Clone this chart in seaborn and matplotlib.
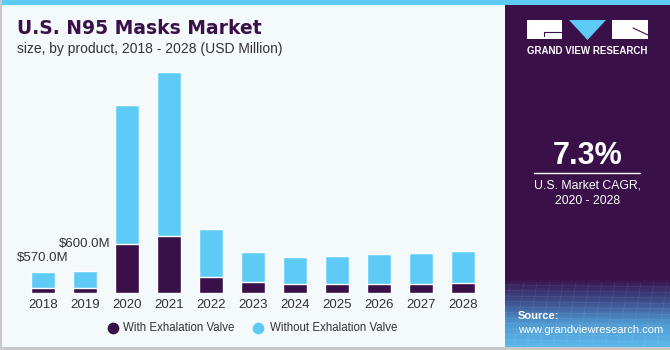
import numpy as np
import pandas as pd
import seaborn as sns
import matplotlib.pyplot as plt
from matplotlib.patches import Rectangle, Polygon
from matplotlib.colors import LinearSegmentedColormap

# data (USD Million)
years = ["2018", "2019", "2020", "2021", "2022", "2023",
         "2024", "2025", "2026", "2027", "2028"]
with_valve = [135, 135, 1320, 1540, 430, 300, 245, 245, 250, 255, 260]
without_valve = [435, 465, 3760, 4430, 1300, 810, 725, 755, 800, 825, 875]
bar_labels = {"2018": "$570.0M", "2019": "$600.0M"}
label_lift = {"2018": 6, "2019": 15}   # points above bar top

DARK = "#3A1048"
CYAN = "#5ECBF7"
BG = "#F4F9FC"
TEXT = "#333333"

sns.set_theme(style="white")
plt.rcParams["font.family"] = ["Liberation Sans", "DejaVu Sans"]

df = pd.DataFrame({"year": years, "with": with_valve, "without": without_valve})
df["total"] = df["with"] + df["without"]

fig = plt.figure(figsize=(6.7, 3.5), dpi=100)
fig.patch.set_facecolor(BG)

# background / decoration layer in pixel coordinates
bg = fig.add_axes([0, 0, 1, 1])
bg.axis("off")
bg.add_patch(Rectangle((0, 0), 670, 5, color=CYAN, lw=0))
bg.add_patch(Rectangle((0, 0), 1.5, 350, color="#C8C8C8", lw=0))
bg.add_patch(Rectangle((0, 347), 670, 3, color="#C8C8C8", lw=0))
bg.add_patch(Rectangle((505, 5), 165, 342, color=DARK, lw=0))

# gradient at bottom of side panel
cmap = LinearSegmentedColormap.from_list("grv", [DARK, "#3D4C8C", "#4F9AD2", "#5BB8EA"])
grad = np.linspace(0, 1, 100).reshape(-1, 1)
bg.imshow(grad, cmap=cmap, extent=[505, 670, 347, 278], aspect="auto", zorder=1)
for k in range(12):
    yy = 285 + k * 5.5
    bg.plot([505, 670], [yy, yy + 2], color="white", alpha=0.08, lw=0.6, zorder=2)
for k in range(14):
    xx = 505 + k * 13
    bg.plot([xx + 6, xx - 4], [282, 347], color="white", alpha=0.08, lw=0.6, zorder=2)
bg.set_xlim(0, 670)
bg.set_ylim(350, 0)

# logo
bg.add_patch(Rectangle((527, 20), 35, 19, color="white", lw=0, zorder=3))
bg.plot([544, 562], [32, 32], color=DARK, lw=0.8, zorder=4)
bg.plot([544, 544], [32, 36], color=DARK, lw=0.8, zorder=4)
bg.add_patch(Polygon([(569, 20), (606, 20), (587.5, 40)], color=CYAN, lw=0, zorder=3))
bg.add_patch(Rectangle((612, 20), 36, 19, color="white", lw=0, zorder=3))
bg.plot([633, 648], [28, 35], color=DARK, lw=0.8, zorder=4)
bg.text(587.5, 51, "GRAND VIEW RESEARCH", color="white", fontsize=7,
        fontweight="bold", ha="center", va="center", zorder=4)

bg.text(588, 156, "7.3%", color="white", fontsize=22, fontweight="bold",
        ha="center", va="center", zorder=4)
bg.plot([534, 640], [173, 173], color="white", lw=1, zorder=4)
bg.text(588, 186, "U.S. Market CAGR,", color="white", fontsize=8.8,
        ha="center", va="center", zorder=4)
bg.text(588, 201, "2020 - 2028", color="white", fontsize=8.8,
        ha="center", va="center", zorder=4)
bg.text(518, 316, "Source:", color="white", fontsize=8, fontweight="bold",
        ha="left", va="center", zorder=4)
bg.text(518, 330, "www.grandviewresearch.com", color="white", fontsize=8,
        ha="left", va="center", zorder=4)

# titles
bg.text(17, 29, "U.S. N95 Masks Market", color=DARK, fontsize=13.5,
        fontweight="heavy", family=["DejaVu Sans"], ha="left", va="center")
bg.text(17, 49, "size, by product, 2018 - 2028 (USD Million)", color=TEXT,
        fontsize=10, ha="left", va="center")

# chart
ax = fig.add_axes([22 / 670, 57 / 350, 462 / 670, 233 / 350])
ax.patch.set_alpha(0)
sns.barplot(data=df, x="year", y="total", color=CYAN, width=0.57,
            saturation=1, ax=ax)
sns.barplot(data=df, x="year", y="with", color=DARK, width=0.57,
            saturation=1, ax=ax)
ax.set_xlim(-0.5, 10.5)
ax.set_ylim(0, 233 * 27)
ax.set_xlabel("")
ax.set_ylabel("")
ax.set_yticks([])
ax.tick_params(axis="x", length=0, labelsize=9.5, labelcolor=TEXT, pad=4)
for s in ax.spines.values():
    s.set_visible(False)

for i, yr in enumerate(years):
    if yr in bar_labels:
        tot = df.loc[i, "total"]
        ax.annotate(bar_labels[yr], (i, tot), xytext=(0, label_lift[yr]),
                    textcoords="offset points", ha="center", va="bottom",
                    fontsize=9.5, color=TEXT)

# legend
bg.scatter([113], [328], s=55, color=DARK, zorder=4)
bg.text(123, 328, "With Exhalation Valve", fontsize=8.3, color=TEXT,
        ha="left", va="center")
bg.scatter([258], [328], s=55, color=CYAN, zorder=4)
bg.text(270, 328, "Without Exhalation Valve", fontsize=8.3, color=TEXT,
        ha="left", va="center")

fig.savefig("out.png", dpi=100, facecolor=BG)
